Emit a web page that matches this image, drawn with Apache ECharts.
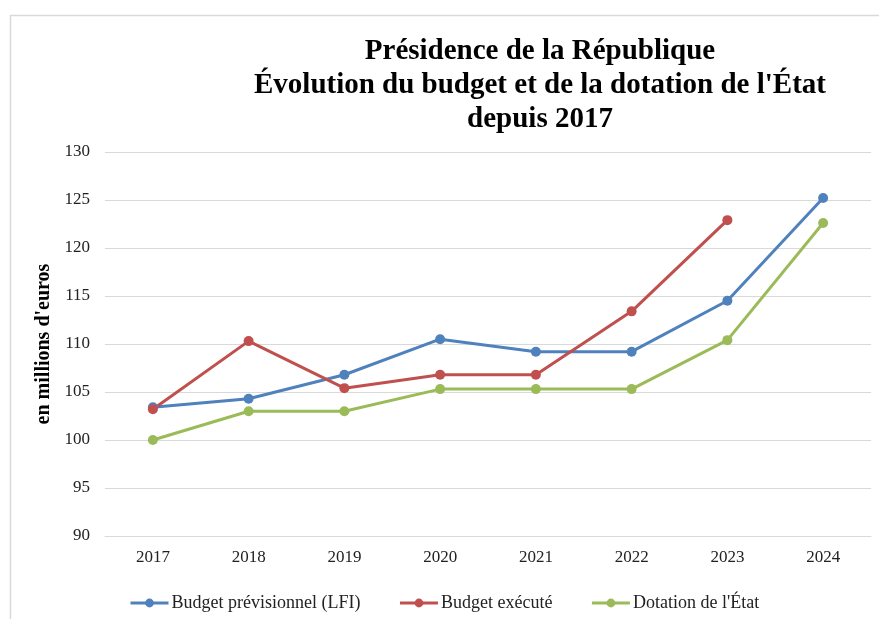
<!DOCTYPE html>
<html><head><meta charset="utf-8">
<script src="https://cdn.jsdelivr.net/npm/echarts@6/dist/echarts.min.js"></script>
<style>html,body{margin:0;padding:0;background:#fff}#c{width:879px;height:619px}</style>
</head><body><div id="c"></div>
<script>
const years = ['2017','2018','2019','2020','2021','2022','2023','2024'];
const budgetLFI = [103.4, 104.3, 106.8, 110.5, 109.2, 109.2, 114.5, 125.2];
const budgetExecute = [103.2, 110.3, 105.4, 106.8, 106.8, 113.4, 122.9, null];
const dotationEtat = [100.0, 103.0, 103.0, 105.3, 105.3, 105.3, 110.4, 122.6];
const seriesNames = ['Budget prévisionnel (LFI)', 'Budget exécuté', "Dotation de l'État"];
const colors = ['#4F81BD', '#C0504D', '#9BBB59'];
const font = '"Liberation Serif", "DejaVu Serif", serif';

const chart = echarts.init(document.getElementById('c'));
const mk = (name, data, color) => ({
  name, type: 'line', data, color,
  symbol: 'circle', symbolSize: 10,
  lineStyle: { width: 3, color },
  itemStyle: { color },
  connectNulls: false
});
chart.setOption({
  animation: false,
  graphic: [{ type: 'rect', left: 8, top: 13, shape: { width: 900, height: 700 },
    style: { fill: 'none', stroke: '#d9d9d9', lineWidth: 1.5 }, silent: true }],
  title: {
    text: "Présidence de la République\nÉvolution du budget et de la dotation de l'État\ndepuis 2017",
    left: 535, top: 30, textAlign: 'center',
    textStyle: { fontFamily: font, fontWeight: 'bold', fontSize: 29, color: '#000', lineHeight: 34 }
  },
  legend: {
    top: 589, left: 124, itemGap: 38, itemWidth: 38, itemHeight: 11,
    lineStyle: { width: 3 },
    textStyle: { fontFamily: font, fontSize: 18, color: '#222', padding: [0, 0, 0, -2] },
    data: seriesNames
  },
  grid: { left: 105, right: 8, top: 152, bottom: 83 },
  xAxis: {
    type: 'category', data: years, boundaryGap: true,
    axisLine: { show: true, lineStyle: { color: '#d9d9d9' } },
    axisTick: { show: false },
    axisLabel: { fontFamily: font, fontSize: 17, color: '#222', margin: 13 }
  },
  yAxis: {
    type: 'value', min: 90, max: 130, interval: 5,
    name: "en millions d'euros", nameLocation: 'middle', nameGap: 49, nameRotate: 90,
    nameTextStyle: { fontFamily: font, fontSize: 20, fontWeight: 'bold', color: '#000' },
    axisLine: { show: false }, axisTick: { show: false },
    splitLine: { lineStyle: { color: '#d9d9d9', width: 1 } },
    axisLabel: { fontFamily: font, fontSize: 17, color: '#222', margin: 15 }
  },
  series: [
    mk(seriesNames[0], budgetLFI, colors[0]),
    mk(seriesNames[1], budgetExecute, colors[1]),
    mk(seriesNames[2], dotationEtat, colors[2])
  ]
});
</script></body></html>
